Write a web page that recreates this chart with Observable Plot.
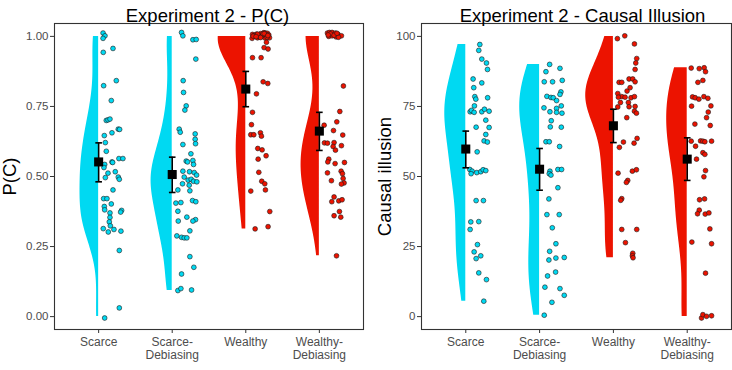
<!DOCTYPE html>
<html>
<head>
<meta charset="utf-8">
<script src="https://cdn.jsdelivr.net/npm/d3@7"></script>
<script src="https://cdn.jsdelivr.net/npm/@observablehq/plot@0.6"></script>
<style>
  html, body { margin: 0; padding: 0; background: #fff; }
  #wrap { display: flex; width: 732px; height: 370px; }
  #wrap svg { display: block; }
  [aria-label="y-axis tick label"], [aria-label="x-axis tick label"] { fill: #4d4d4d; }
</style>
</head>
<body>
<div id="wrap"></div>
<script>
// Conditions on the x axis
const categories = ["Scarce", "Scarce-Debiasing", "Wealthy", "Wealthy-Debiasing"];
const tickLabels = ["Scarce", "Scarce-\nDebiasing", "Wealthy", "Wealthy-\nDebiasing"];
const conditionColors = ["#00d9f2", "#00d9f2", "#ec1300", "#ec1300"];

// Experiment 2 - P(C): individual responses and their horizontal jitter (category units)
const pcScarce = [1.012,1.002,0.993,0.943,0.957,0.842,0.824,0.771,0.700,0.702,0.705,0.656,0.669,0.668,0.646,0.621,0.590,0.564,0.564,0.552,0.550,0.543,0.532,0.512,0.496,0.517,0.498,0.490,0.452,0.421,0.421,0.402,0.393,0.381,0.370,0.379,0.373,0.354,0.338,0.324,0.314,0.311,0.302,0.305,0.236,0.031,-0.005];
const pcScarceJitter = [0.06,0.086,0.06,0.063,0.195,0.24,0.068,0.172,0.104,0.127,0.154,0.181,0.267,0.285,0.077,0.091,0.104,0.276,0.33,0.181,0.19,0.082,0.072,0.127,0.091,0.226,0.267,0.281,0.195,0.068,0.113,0.172,0.077,0.082,0.154,0.312,0.299,0.154,0.145,0.159,0.063,0.208,0.131,0.303,0.281,0.281,0.082];
const pcScarceDeb = [1.014,1.002,0.988,0.989,0.919,0.842,0.800,0.752,0.737,0.669,0.658,0.652,0.633,0.617,0.614,0.581,0.555,0.552,0.557,0.543,0.519,0.517,0.514,0.505,0.498,0.487,0.490,0.483,0.481,0.474,0.469,0.452,0.449,0.405,0.407,0.414,0.410,0.376,0.355,0.346,0.341,0.341,0.306,0.288,0.283,0.281,0.281,0.214,0.176,0.152,0.093,0.100,0.095];
const pcScarceDebJitter = [0.127,0.145,0.281,0.326,0.321,0.149,0.154,0.19,0.172,0.095,0.109,0.312,0.312,0.317,0.145,0.254,0.19,0.208,0.281,0.29,0.145,0.235,0.299,0.331,0.163,0.217,0.258,0.29,0.335,0.14,0.231,0.077,0.24,0.05,0.118,0.276,0.321,0.077,0.199,0.317,0.281,0.082,0.24,0.063,0.127,0.163,0.199,0.24,0.294,0.127,0.077,0.118,0.263];
const pcWealthy = [1.007,1.002,1.008,1.005,1.010,1.013,1.012,1.011,1.005,0.995,0.995,1.000,0.995,0.993,1.003,0.998,1.009,1.006,0.997,1.004,1.001,1.008,0.996,1.010,1.003,0.999,0.979,0.960,0.955,0.924,0.924,0.838,0.832,0.795,0.729,0.685,0.649,0.649,0.656,0.644,0.600,0.595,0.574,0.562,0.515,0.483,0.474,0.452,0.448,0.375,0.313,0.321];
const pcWealthyJitter = [0.091,0.113,0.145,0.177,0.204,0.245,0.267,0.294,0.313,0.322,0.258,0.213,0.159,0.086,0.12,0.19,0.23,0.28,0.29,0.17,0.1,0.16,0.2,0.25,0.3,0.14,0.281,0.249,0.303,0.091,0.208,0.236,0.299,0.145,0.091,0.077,0.068,0.109,0.199,0.213,0.163,0.222,0.276,0.168,0.177,0.217,0.258,0.267,0.068,0.326,0.127,0.303];
const pcWealthyDeb = [1.012,1.014,1.014,1.012,1.007,1.002,1.000,1.002,0.998,1.009,1.004,0.997,1.011,1.005,0.823,0.732,0.695,0.683,0.664,0.648,0.620,0.619,0.621,0.607,0.610,0.594,0.562,0.552,0.546,0.550,0.513,0.519,0.510,0.493,0.485,0.477,0.473,0.427,0.410,0.413,0.417,0.375,0.360,0.355,0.217];
const pcWealthyDebJitter = [0.11,0.137,0.173,0.219,0.255,0.3,0.128,0.173,0.228,0.15,0.2,0.26,0.24,0.12,0.327,0.278,0.237,0.065,0.192,0.318,0.069,0.11,0.2,0.187,0.3,0.219,0.128,0.115,0.214,0.341,0.11,0.296,0.314,0.323,0.164,0.336,0.3,0.2,0.169,0.264,0.309,0.273,0.2,0.291,0.233];
const pcMean = [0.552, 0.507, 0.812, 0.662];
const pcLow = [0.481, 0.443, 0.749, 0.593];
const pcHigh = [0.620, 0.569, 0.875, 0.729];

// Experiment 2 - Causal Illusion
const ciScarce = [97.1,95.0,91.9,90.5,88.2,84.8,83.4,81.7,78.5,77.6,78.1,75.2,73.1,73.6,72.9,73.1,74.0,73.3,70.1,67.6,67.5,65.0,62.7,62.3,58.8,52.5,51.9,51.0,51.4,51.7,52.4,52.1,41.4,41.4,33.8,33.9,31.1,25.7,23.1,21.7,20.7,15.6,13.2,5.5];
const ciScarceJitter = [0.19,0.176,0.217,0.28,0.294,0.099,0.217,0.108,0.122,0.136,0.296,0.117,0.059,0.077,0.113,0.217,0.253,0.316,0.271,0.14,0.316,0.271,0.248,0.293,0.154,0.054,0.086,0.072,0.149,0.203,0.235,0.271,0.14,0.239,0.068,0.176,0.059,0.158,0.113,0.203,0.14,0.176,0.28,0.244];
const ciScarceDeb = [90.0,87.4,88.6,83.8,83.8,84.3,78.6,78.2,78.1,77.1,80.2,79.3,74.5,73.1,74.3,72.9,75.2,72.6,69.9,67.7,67.6,62.4,62.4,60.7,51.9,51.0,50.5,52.5,52.5,46.0,42.0,36.4,36.4,31.7,26.0,23.3,20.2,20.9,21.1,14.5,15.9,10.5,10.0,7.6,5.1,0.5];
const ciScarceDebJitter = [0.136,0.086,0.276,0.063,0.176,0.307,0.099,0.154,0.185,0.23,0.289,0.276,0.059,0.14,0.23,0.23,0.294,0.303,0.158,0.145,0.294,0.086,0.131,0.271,0.14,0.131,0.154,0.248,0.298,0.248,0.126,0.099,0.266,0.172,0.221,0.136,0.126,0.221,0.334,0.108,0.217,0.072,0.276,0.334,0.167,0.063];
const ciWealthy = [99.2,100.2,97.3,92.1,90.5,88.2,83.6,83.6,84.8,84.8,83.8,80.5,81.7,79.6,78.5,78.3,78.3,78.1,78.5,76.4,76.4,74.8,74.9,75.0,73.3,72.6,71.0,63.6,61.9,62.3,60.4,51.2,51.9,52.4,48.6,47.9,42.1,41.5,31.1,31.1,26.4,22.6,21.7,21.0];
const ciWealthyJitter = [0.054,0.154,0.285,0.316,0.303,0.294,0.077,0.113,0.212,0.262,0.294,0.185,0.226,0.059,0.113,0.068,0.158,0.239,0.285,0.095,0.203,0.059,0.212,0.294,0.285,0.312,0.181,0.321,0.28,0.136,0.081,0.063,0.257,0.312,0.194,0.176,0.113,0.099,0.113,0.316,0.163,0.262,0.257,0.266];
const ciWealthyDeb = [88.7,88.5,88.8,87.4,83.6,84.3,78.4,78.1,77.6,78.5,77.9,75.1,75.2,73.0,71.0,68.7,68.2,62.6,62.7,62.6,62.4,62.6,60.8,58.5,57.9,56.2,52.1,49.9,41.7,42.0,38.0,36.7,36.6,37.0,31.3,26.0,26.6,15.5,-0.5,0.7,0.1,0.3];
const ciWealthyDebJitter = [0.054,0.163,0.23,0.248,0.145,0.212,0.072,0.108,0.158,0.226,0.28,0.059,0.321,0.285,0.262,0.104,0.312,0.054,0.181,0.212,0.239,0.33,0.113,0.212,0.239,0.126,0.248,0.226,0.167,0.235,0.163,0.14,0.244,0.294,0.307,0.33,0.063,0.248,0.194,0.212,0.262,0.33];
const ciMean = [59.8, 52.6, 68.1, 56.2];
const ciLow = [53.1, 45.1, 62.1, 48.6];
const ciHigh = [66.2, 60.0, 74.0, 63.8];

const FONT = "'Liberation Sans', Arial, Helvetica, sans-serif";

// Silverman's rule of thumb (R's bw.nrd0)
function bandwidth(v) {
  const sd = d3.deviation(v);
  const iqr = d3.quantile(v, 0.75) - d3.quantile(v, 0.25);
  let lo = Math.min(sd, iqr / 1.34);
  if (!(lo > 0)) lo = sd || 1;
  return 0.9 * lo * Math.pow(v.length, -0.2);
}

// Gaussian kernel density, evaluated between lo and hi (trimmed violin)
function kde(v, lo, hi, m = 160) {
  const bw = bandwidth(v);
  const k = 1 / (v.length * bw * Math.sqrt(2 * Math.PI));
  return d3.range(m).map(i => {
    const y = lo + (hi - lo) * i / (m - 1);
    let s = 0;
    for (const x of v) { const z = (y - x) / bw; s += Math.exp(-0.5 * z * z); }
    return {y, d: s * k};
  });
}

function panel(cfg) {
  const halfWidth = 0.375;
  const curves = cfg.values.map(vals => {
    const lo = Math.max(d3.min(vals), cfg.limits[0]);
    const hi = Math.min(d3.max(vals), cfg.limits[1]);
    return kde(vals, lo, hi);
  });
  const maxD = d3.max(curves, c => d3.max(c, p => p.d));

  const marks = [];
  curves.forEach((c, i) => {
    const pos = i + 1;
    const shape = c.map(p => ({y: p.y, x1: pos - p.d / maxD * halfWidth, x2: pos}));
    marks.push(Plot.areaX(shape, {y: "y", x1: "x1", x2: "x2", fill: conditionColors[i], curve: "linear"}));
  });
  cfg.values.forEach((vals, i) => {
    const pos = i + 1;
    const pts = vals.map((v, j) => ({x: pos + cfg.jitter[i][j], y: v}));
    marks.push(Plot.dot(pts, {x: "x", y: "y", r: 2.4, fill: conditionColors[i], stroke: "#1a1a1a", strokeWidth: 0.6}));
  });
  const summary = categories.map((c, i) => ({pos: i + 1, mean: cfg.mean[i], lo: cfg.low[i], hi: cfg.high[i]}));
  marks.push(
    Plot.ruleX(summary, {x: "pos", y1: "lo", y2: "hi", stroke: "black", strokeWidth: 1.6}),
    Plot.link(summary, {x1: d => d.pos - 0.045, x2: d => d.pos + 0.045, y1: "hi", y2: "hi", stroke: "black", strokeWidth: 1.6}),
    Plot.link(summary, {x1: d => d.pos - 0.045, x2: d => d.pos + 0.045, y1: "lo", y2: "lo", stroke: "black", strokeWidth: 1.6}),
    Plot.dot(summary, {x: "pos", y: "mean", symbol: "square", r: 5.1, fill: "black", stroke: "none"}),
    Plot.frame({stroke: "#333", strokeWidth: 1.1}),
    Plot.axisY({ticks: cfg.ticks, tickFormat: cfg.tickFormat, tickSize: 4, tickPadding: 2, fontSize: 11.5, stroke: "#333", label: null}),
    Plot.axisX({ticks: [1, 2, 3, 4], tickFormat: i => tickLabels[i - 1], tickSize: 4, tickPadding: 3.5, fontSize: 12, lineHeight: 1.05, stroke: "#333", label: null}),
    Plot.text([cfg.title], {text: d => d, frameAnchor: "top", dy: -14.5, dx: cfg.titleDx, fontSize: 18.5, fill: "black"}),
    Plot.text([cfg.yLabel], {text: d => d, frameAnchor: "left", textAnchor: "middle", rotate: -90, dx: cfg.yLabelDx, fontSize: 18.5, fill: "black"})
  );

  return Plot.plot({
    width: 366,
    height: 370,
    marginTop: 23,
    marginBottom: 41,
    marginLeft: cfg.marginLeft,
    marginRight: cfg.marginRight,
    style: {fontFamily: FONT, background: "white"},
    x: {domain: [0.4, 4.6], axis: null},
    y: {domain: cfg.domain, axis: null},
    marks
  });
}

const wrap = document.getElementById("wrap");
wrap.append(panel({
  title: "Experiment 2 - P(C)",
  titleDx: -1.5,
  yLabel: "P(C)",
  yLabelDx: -44.5,
  values: [pcScarce, pcScarceDeb, pcWealthy, pcWealthyDeb],
  jitter: [pcScarceJitter, pcScarceDebJitter, pcWealthyJitter, pcWealthyDebJitter],
  mean: pcMean, low: pcLow, high: pcHigh,
  limits: [0, 1],
  domain: [-0.046, 1.046],
  ticks: [0, 0.25, 0.5, 0.75, 1],
  tickFormat: d3.format(".2f"),
  marginLeft: 54,
  marginRight: 3
}));
wrap.append(panel({
  title: "Experiment 2 - Causal Illusion",
  titleDx: 6,
  yLabel: "Causal illusion",
  yLabelDx: -36.5,
  values: [ciScarce, ciScarceDeb, ciWealthy, ciWealthyDeb],
  jitter: [ciScarceJitter, ciScarceDebJitter, ciWealthyJitter, ciWealthyDebJitter],
  mean: ciMean, low: ciLow, high: ciHigh,
  limits: [0, 100],
  domain: [-4.6, 104.6],
  ticks: [0, 25, 50, 75, 100],
  tickFormat: d3.format("d"),
  marginLeft: 55,
  marginRight: 1
}));
</script>
</body>
</html>
